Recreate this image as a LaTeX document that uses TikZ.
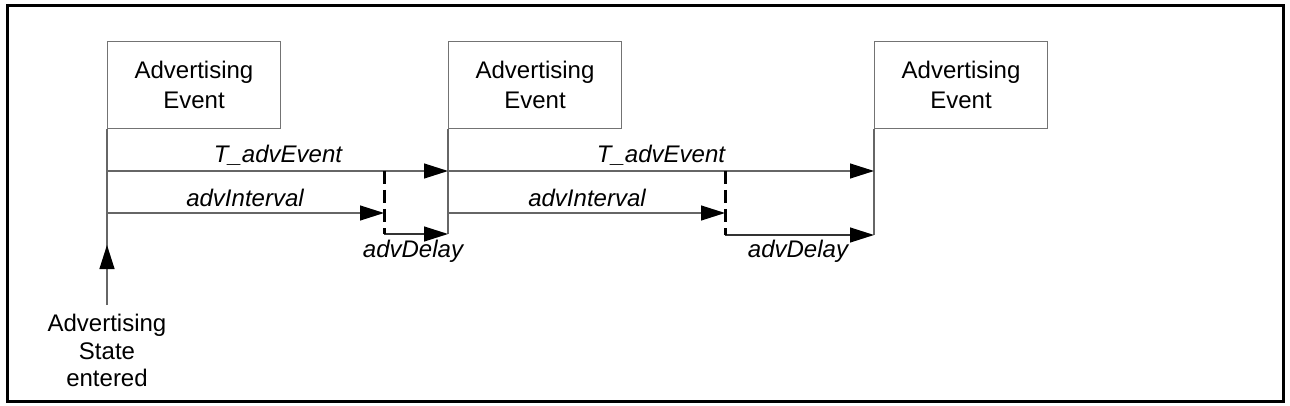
\documentclass[tikz,border=0pt]{standalone}
\usepackage{fontspec}
\setmainfont{Liberation Sans}
\usetikzlibrary{arrows.meta}

\tikzset{
  evbox/.style={draw=black!55, line width=1pt, minimum width=173pt, minimum height=87pt,
    align=center, inner sep=0pt, anchor=north west, font=\fontsize{24}{30}\selectfont},
  tline/.style={draw=black!60, line width=1.2pt},
  tarrow/.style={tline, -{Triangle[length=24pt, width=15pt, black]}},
  delayline/.style={line width=3pt, dash pattern=on 13pt off 6pt},
  lbl/.style={font=\fontsize{24}{28}\selectfont\itshape, inner sep=0pt, anchor=base},
}

\begin{document}
\begin{tikzpicture}[x=1pt, y=-1pt] % pixel grid, y going down
    \useasboundingbox (0,0) rectangle (1290,406);

    % 1. Frame
    \draw[line width=3pt] (7.5,5.5) rectangle (1283.5,401.5);

    % 2. Advertising events
    \node[evbox] (ev1) at (107,41) {Advertising\\Event};
    \node[evbox] (ev2) at (448,41) {Advertising\\Event};
    \node[evbox] (ev3) at (874,41) {Advertising\\Event};

    % 3. Time points
    \coordinate (s0) at (107,305);
    \coordinate (up) at (107,245);
    \coordinate (e1a) at (107,171);
    \coordinate (e1b) at (107,213);
    \coordinate (d1a) at (384,171);
    \coordinate (d1m) at (384,213);
    \coordinate (d1b) at (384,234);
    \coordinate (e2a) at (448,171);
    \coordinate (e2b) at (448,213);
    \coordinate (e2c) at (448,234);
    \coordinate (d2a) at (725,171);
    \coordinate (d2m) at (725,213);
    \coordinate (d2b) at (725,235);
    \coordinate (e3a) at (874,171);
    \coordinate (e3c) at (874,235);

    % 4. Event start lines
    \draw[tline] (ev1.south west) -- (s0);
    \draw[tline] (ev2.south west) -- (e2c);
    \draw[tline] (ev3.south west) -- (e3c);
    \draw[tarrow] (s0) -- (up);

    % 5. Intervals and delays
    \draw[tarrow] (e1a) -- (e2a);
    \draw[tarrow] (e1b) -- (d1m);
    \draw[tarrow, draw=black!80] (d1b) -- (e2c);
    \draw[tarrow] (e2a) -- (e3a);
    \draw[tarrow] (e2b) -- (d2m);
    \draw[tarrow, draw=black!80] (d2b) -- (e3c);
    \draw[delayline] (d1a) -- (d1b);
    \draw[delayline] (d2a) -- (d2b);

    % 6. Labels
    \node[lbl] (tev1) at (278,163) {T\_advEvent};
    \node[lbl] (int1) at (245,207) {advInterval};
    \node[lbl] (del1) at (413,257) {advDelay};
    \node[lbl] (tev2) at (661,163) {T\_advEvent};
    \node[lbl] (int2) at (587,207) {advInterval};
    \node[lbl] (del2) at (798,257) {advDelay};

    \node[align=center, anchor=north, inner sep=0pt, font=\fontsize{24}{27.5}\selectfont]
        (state) at (107,314) {Advertising\\State\\entered};
\end{tikzpicture}
\end{document}
